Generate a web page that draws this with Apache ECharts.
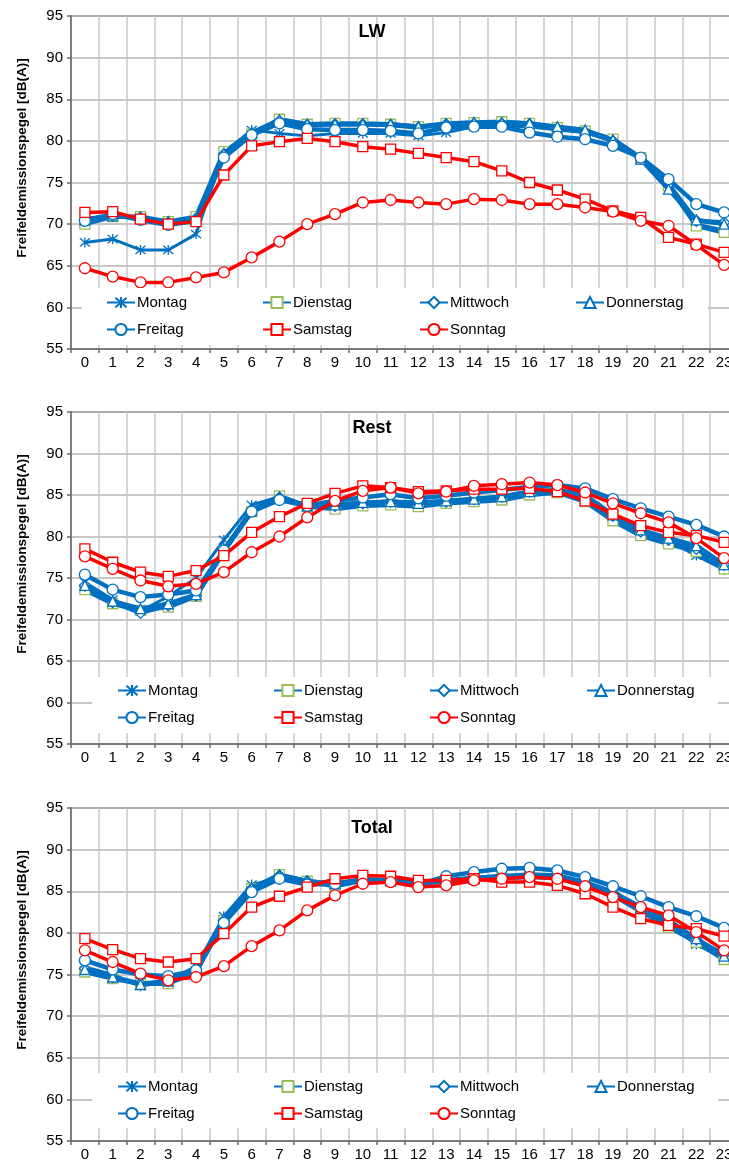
<!DOCTYPE html>
<html><head><meta charset="utf-8">
<script src="https://cdn.jsdelivr.net/npm/echarts@6/dist/echarts.min.js"></script>
<style>html,body{margin:0;padding:0;overflow:hidden;background:#fff}#c{width:745px;height:1165px}</style>
</head><body><div id="c"></div>
<script>
const hours = ['0','1','2','3','4','5','6','7','8','9','10','11','12','13','14','15','16','17','18','19','20','21','22','23'];
const days = ['Montag','Dienstag','Mittwoch','Donnerstag','Freitag','Samstag','Sonntag'];
const panelTitles = ['LW','Rest','Total'];
const yAxisTitle = 'Freifeldemissionspegel [dB(A)]';

// LW
const lwMontag     = [67.8,68.2,66.9,66.9,68.8,78.6,81.3,80.9,80.6,80.9,80.9,80.9,80.6,81.0,81.7,81.8,81.7,81.3,81.0,80.0,77.8,74.6,70.0,69.3];
const lwDienstag   = [70.0,70.9,70.9,70.3,70.9,78.7,80.8,82.6,82.0,82.1,82.1,82.0,81.7,82.1,82.2,82.3,82.1,81.6,81.2,80.2,78.0,74.6,69.8,69.0];
const lwMittwoch   = [70.6,71.0,70.8,70.2,70.7,78.4,80.9,82.4,81.9,82.0,82.0,81.9,81.6,82.0,82.1,82.1,82.0,81.5,81.1,80.0,77.9,74.8,70.4,70.2];
const lwDonnerstag = [70.5,71.0,70.7,70.3,70.6,78.5,81.0,82.5,82.0,82.0,82.0,82.0,81.7,82.0,82.2,82.2,82.1,81.7,81.3,80.1,77.8,74.2,70.5,70.0];
const lwFreitag    = [70.4,71.2,70.5,69.9,70.4,78.0,80.7,82.1,81.4,81.3,81.3,81.2,80.9,81.6,81.7,81.7,81.0,80.5,80.2,79.4,78.0,75.4,72.4,71.4];
const lwSamstag    = [71.4,71.5,70.6,70.0,70.3,75.9,79.4,79.9,80.3,79.9,79.3,79.0,78.5,78.0,77.5,76.4,75.0,74.1,73.0,71.6,70.8,68.4,67.6,66.6];
const lwSonntag    = [64.7,63.7,63.0,63.0,63.6,64.2,66.0,67.9,70.0,71.2,72.6,72.9,72.6,72.4,73.0,72.9,72.4,72.4,72.0,71.5,70.4,69.8,67.5,65.1];

// Rest
const restMontag     = [74.5,72.4,71.0,72.8,75.0,79.6,83.8,84.8,83.8,83.6,84.1,84.3,84.0,84.3,84.6,84.8,85.4,85.6,84.8,82.4,80.8,79.5,77.7,76.0];
const restDienstag   = [73.6,71.9,71.1,71.5,72.8,78.2,83.0,84.9,83.6,83.3,83.7,83.8,83.6,84.0,84.2,84.4,85.0,85.3,84.2,81.9,80.1,79.1,78.2,76.1];
const restMittwoch   = [74.1,72.1,70.8,71.7,72.9,78.3,83.2,84.7,83.7,83.7,84.0,84.2,84.1,84.2,84.5,84.8,85.4,85.5,84.8,82.5,80.6,79.6,78.5,76.6];
const restDonnerstag = [74.1,72.2,71.3,71.9,73.0,78.4,83.1,84.7,83.7,83.8,84.1,84.2,84.0,84.3,84.5,84.8,85.4,85.6,85.0,82.6,80.8,79.8,78.9,76.6];
const restFreitag    = [75.4,73.6,72.7,73.0,73.5,78.3,83.0,84.4,83.7,84.3,84.7,85.1,84.6,84.9,85.3,85.6,86.0,86.2,85.8,84.5,83.4,82.4,81.4,80.0];
const restSamstag    = [78.5,76.9,75.7,75.2,75.9,77.7,80.5,82.4,84.0,85.2,86.1,85.9,85.4,85.5,85.7,85.7,85.8,85.4,84.3,82.7,81.3,80.5,80.1,79.3];
const restSonntag    = [77.6,76.1,74.7,74.0,74.3,75.7,78.1,80.0,82.3,84.3,85.5,85.9,85.2,85.4,86.1,86.3,86.5,86.2,85.3,84.0,82.8,81.7,79.8,77.4];

// Total
const totMontag     = [75.9,75.0,73.6,74.2,76.0,82.0,85.8,86.6,86.0,85.8,86.3,86.3,86.0,86.3,86.6,86.8,86.9,86.8,86.0,84.6,82.8,81.0,78.6,76.9];
const totDienstag   = [75.3,74.5,73.9,73.9,75.3,81.5,85.3,87.0,86.2,85.6,86.3,86.2,85.9,86.2,86.5,86.6,86.7,86.6,85.8,84.5,82.6,80.7,78.9,76.8];
const totMittwoch   = [75.7,74.7,73.9,74.2,75.4,81.5,85.3,86.9,86.2,85.9,86.4,86.3,86.0,86.3,86.6,86.8,86.9,86.8,86.0,84.8,83.0,81.3,79.2,77.4];
const totDonnerstag = [75.6,74.7,73.8,74.2,75.3,81.6,85.4,86.9,86.2,85.9,86.4,86.3,86.0,86.3,86.6,86.8,87.0,86.9,86.1,84.9,83.1,81.5,79.3,77.2];
const totFreitag    = [76.7,75.6,75.0,74.8,75.5,81.2,84.9,86.5,85.8,85.9,86.3,86.2,85.8,86.8,87.3,87.7,87.8,87.5,86.7,85.6,84.4,83.1,82.0,80.6];
const totSamstag    = [79.3,78.0,76.9,76.5,76.9,79.9,83.1,84.4,85.5,86.5,86.9,86.8,86.3,86.3,86.5,86.1,86.1,85.7,84.7,83.1,81.7,80.9,80.5,79.6];
const totSonntag    = [77.9,76.5,75.1,74.3,74.7,76.0,78.4,80.3,82.7,84.5,85.9,86.1,85.5,85.7,86.3,86.5,86.7,86.5,85.6,84.3,83.1,82.1,80.1,77.9];

const panelData = [
  [lwMontag,lwDienstag,lwMittwoch,lwDonnerstag,lwFreitag,lwSamstag,lwSonntag],
  [restMontag,restDienstag,restMittwoch,restDonnerstag,restFreitag,restSamstag,restSonntag],
  [totMontag,totDienstag,totMittwoch,totDonnerstag,totFreitag,totSamstag,totSonntag]
];

const BLUE = '#0070C0', RED = '#FF0000', GREEN = '#9BBB59';
const ASTER = 'path://M0,0L10,10M10,0L0,10M5,-1L5,11';
const dayStyle = [
  {line: BLUE, lw: 3,   sym: ASTER,      size: 10, border: BLUE},
  {line: BLUE, lw: 4.5, sym: 'rect',     size: 10, border: GREEN},
  {line: BLUE, lw: 4.5, sym: 'diamond',  size: 11, border: BLUE},
  {line: BLUE, lw: 4.5, sym: 'triangle', size: 10, border: BLUE},
  {line: BLUE, lw: 4.5, sym: 'circle',   size: 11, border: BLUE},
  {line: RED,  lw: 3.5, sym: 'rect',     size: 10, border: RED},
  {line: RED,  lw: 3.5, sym: 'circle',   size: 11, border: RED}
];

const layout = [
  {top: 16,  height: 333, box: [82, 288, 626, 57],  lx: [106, 262, 419, 575], ly: [304, 331],   titleY: 32,  nameY: 158},
  {top: 412, height: 332, box: [92, 677, 626, 56],  lx: [117, 273, 429, 586], ly: [692, 719],   titleY: 428, nameY: 554},
  {top: 808, height: 333, box: [92, 1073, 626, 55], lx: [117, 273, 429, 586], ly: [1088, 1115], titleY: 828, nameY: 950}
];

const FONT = 'Arial, "Liberation Sans", sans-serif';
const grid = [], xAxis = [], yAxis = [], series = [], legend = [], graphic = [];

layout.forEach((L, p) => {
  grid.push({left: 71, right: 7, top: L.top, height: L.height, show: true, borderColor: '#6a6a6a', borderWidth: 1.5, backgroundColor: 'transparent', containLabel: false});
  xAxis.push({
    type: 'category', gridIndex: p, data: hours, boundaryGap: true,
    axisLine: {show: true, lineStyle: {color: '#6a6a6a', width: 1.5}},
    axisTick: {show: true, length: 4, interval: 0, lineStyle: {color: '#6a6a6a', width: 1.5}},
    axisLabel: {interval: 0, margin: 6, fontSize: 15, color: '#000', fontFamily: FONT},
    splitLine: {show: true, interval: 0, lineStyle: {color: '#c8c8c8', width: 1.5}}
  });
  yAxis.push({
    type: 'value', gridIndex: p, min: 55, max: 95, interval: 5,
    axisLine: {show: true, lineStyle: {color: '#6a6a6a', width: 1.5}},
    axisTick: {show: true, length: 4, lineStyle: {color: '#6a6a6a', width: 1.5}},
    axisLabel: {margin: 8, fontSize: 15, color: '#000', fontFamily: FONT},
    splitLine: {show: true, lineStyle: {color: '#b4b4b4', width: 1.5}}
  });
  days.forEach((d, i) => {
    const s = dayStyle[i];
    series.push({
      type: 'line', name: d, xAxisIndex: p, yAxisIndex: p,
      data: panelData[p][i],
      symbol: s.sym, symbolSize: s.size, showAllSymbol: true,
      lineStyle: {color: s.line, width: s.lw},
      itemStyle: {color: '#fff', borderColor: s.border, borderWidth: 1.3},
      emphasis: {disabled: true}, z: 2 + i * 0.01
    });
    const col = i % 4, row = Math.floor(i / 4);
    legend.push({
      data: [d], left: L.lx[col], top: L.ly[row] - 9, padding: 0,
      itemWidth: 28, itemHeight: 14, itemGap: 0, selectedMode: false,
      textStyle: {fontSize: 15, color: '#000', fontFamily: FONT, padding: [0, 0, 0, -3]}
    });
  });
  graphic.push({type: 'rect', z: 3, shape: {x: L.box[0], y: L.box[1], width: L.box[2], height: L.box[3]}, style: {fill: '#fff'}});
  graphic.push({type: 'text', z: 5, x: 372, y: L.titleY, style: {text: panelTitles[p], font: 'bold 18px ' + FONT, fill: '#000', align: 'center', verticalAlign: 'middle'}});
  graphic.push({type: 'text', z: 5, x: 22, y: L.nameY, rotation: Math.PI / 2, style: {text: yAxisTitle, font: 'bold 13.5px ' + FONT, fill: '#000', align: 'center', verticalAlign: 'middle'}});
});

const chart = echarts.init(document.getElementById('c'), null, {renderer: 'canvas'});
chart.setOption({animation: false, backgroundColor: '#fff', grid, xAxis, yAxis, series, legend, graphic});
</script></body></html>
